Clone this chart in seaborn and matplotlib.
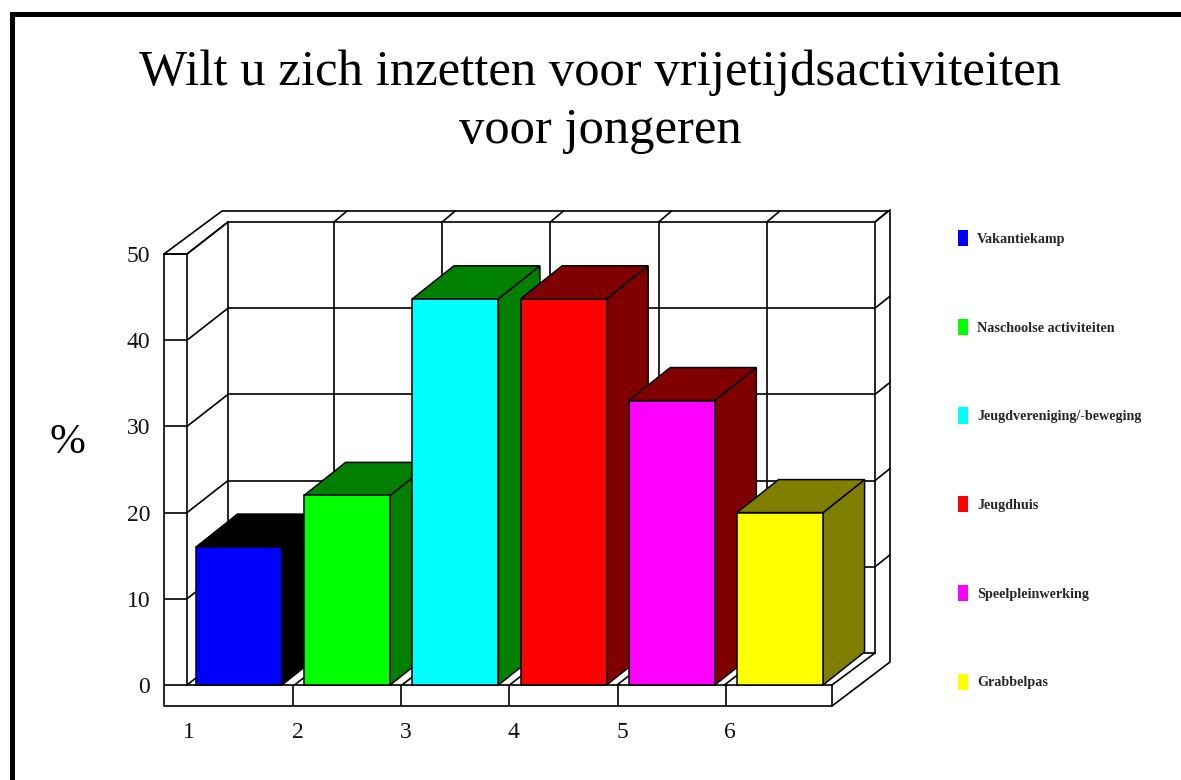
import matplotlib
matplotlib.use('Agg')
import matplotlib.pyplot as plt
from matplotlib.patches import Patch, Polygon, Rectangle
import seaborn as sns

# Data
categories = ['Vakantiekamp', 'Naschoolse activiteiten', 'Jeugdvereniging/-beweging',
              'Jeugdhuis', 'Speelpleinwerking', 'Grabbelpas']
values = [16, 22, 44.8, 44.8, 33, 20]
front_colors = ['#0000ff', '#00ff00', '#00ffff', '#ff0000', '#ff00ff', '#ffff00']
side_colors = ['#000000', '#008000', '#008000', '#800000', '#800000', '#808000']
y_ticks = [0, 10, 20, 30, 40, 50]
x_tick_labels = ['1', '2', '3', '4', '5', '6']
title = 'Wilt u zich inzetten voor vrijetijdsactiviteiten\nvoor jongeren'

W, H = 1181, 780
sns.set_theme(style='white')
plt.rcParams['font.family'] = ['Liberation Serif', 'DejaVu Serif']

fig = plt.figure(figsize=(W / 100, H / 100), dpi=100)
# front plane of the box: x 187-832 px, y 254-685 px
ax = fig.add_axes([187 / W, (H - 685) / H, (832 - 187) / W, (685 - 254) / H])

sns.barplot(x=categories, y=values, hue=categories, palette=front_colors, saturation=1,
            width=0.795, legend=False, edgecolor='black', linewidth=1.1, ax=ax, zorder=5)

XMIN, XMAX = -0.48, 5.48
ax.set_xlim(XMIN, XMAX)
ax.set_ylim(0, 50)
sx = (XMAX - XMIN) / 645  # data units per pixel
sy = 50 / 431
LW = 1.2


def seg(xs, ys, z=1):
    ax.plot(xs, ys, color='black', lw=LW, clip_on=False, zorder=z, solid_capstyle='projecting')


# box depth, and the outer shell offset
bx, by = 41 * sx, 32 * sy
ox, oy = 23 * sx, 21 * sy
top = 50 + 43 * sy
right = XMAX + 58 * sx

# front strip and left wall
seg([XMIN - ox, XMIN - ox, XMAX, XMAX], [50, -oy, -oy, 0])
seg([XMIN, XMAX], [0, 0], 4)
seg([XMIN, XMIN], [0, 50])
seg([XMIN - ox, XMIN], [50, 50])
# outer back edges
seg([XMIN - ox, XMIN - ox + 58 * sx, right, right, XMAX], [50, top, top, -oy + 44 * sy, -oy])
seg([XMIN, XMIN + bx], [50, 50 + by])
seg([XMAX, XMAX + 43 * sx], [0, by])

# back wall grid
wall_right = XMIN + bx + 647 * sx
seg([XMIN + bx, XMIN + bx], [by, 50 + by])
for k in range(6):
    gx = wall_right - k * 108.2 * sx
    seg([gx, gx], [by, 50 + by])
    seg([gx, gx + 13 * sx], [50 + by, top])
for t in y_ticks:
    seg([XMIN + bx, wall_right], [t + by, t + by])
    seg([XMIN, XMIN + bx], [t, t + by])
    if t > 0:
        seg([wall_right, wall_right + 15 * sx], [t + by, t + by + 12 * sy])
# floor lines
for k in range(1, 6):
    fx = XMIN + k * 107.5 * sx
    seg([fx, fx + bx], [0, by])

# top and side faces of the bars
dx, dy = 41.5 * sx, 33 * sy
for bar, side in zip(ax.patches, side_colors):
    x0, x1 = bar.get_x(), bar.get_x() + bar.get_width()
    h = bar.get_height()
    ax.add_patch(Polygon([(x1, 0), (x1 + dx, dy), (x1 + dx, h + dy), (x1, h)], closed=True,
                         facecolor=side, edgecolor='black', lw=1.1, clip_on=False, zorder=3))
    ax.add_patch(Polygon([(x0, h), (x1, h), (x1 + dx, h + dy), (x0 + dx, h + dy)], closed=True,
                         facecolor=side, edgecolor='black', lw=1.1, clip_on=False, zorder=3))
    bar.set_clip_on(False)

# axes ticks and labels
sns.despine(ax=ax, left=True, bottom=True, right=True, top=True)
ax.set_yticks(y_ticks)
ax.set_yticklabels([str(t) for t in y_ticks], fontsize=17, color='#111111')
ax.tick_params(axis='y', left=True, length=23 * 0.72, width=LW, pad=10, color='black')
ax.set_xticks([i - 0.46 for i in range(6)])
ax.set_xticklabels(x_tick_labels, fontsize=17, color='#111111')
ax.set_xticks([i + 0.5 for i in range(5)], minor=True)
ax.tick_params(axis='x', which='major', bottom=False, pad=21)
ax.tick_params(axis='x', which='minor', bottom=True, length=21 * 0.72, width=LW, color='black')
ax.set_xlabel('')
ax.set_ylabel('')
ax.patch.set_alpha(0)

fig.suptitle(title, x=600 / W, y=1 - 49 / H, fontsize=36.5, linespacing=1.35, va='top', color='black')
fig.text(67 / W, 1 - 443 / H, '%', fontsize=31, ha='center', va='center', color='black')

# legend
fs = 10.2
fpx = fs / 0.72
handles = [Patch(facecolor=c, edgecolor='none', label=l) for c, l in zip(front_colors, categories)]
fig.legend(handles=handles, loc='upper left', bbox_to_anchor=(958 / W, 1 - 230 / H), frameon=False,
           prop={'size': fs, 'weight': 'bold'}, borderpad=0, borderaxespad=0,
           handlelength=10 / fpx, handleheight=1.394, handletextpad=9 / fpx,
           labelspacing=(88.4 - 16) / fpx)

# black frame, top and left only
fig.add_artist(Rectangle((10 / W, 0), 5 / W, 1 - 12 / H, transform=fig.transFigure, color='black', lw=0))
fig.add_artist(Rectangle((10 / W, 1 - 17 / H), 1 - 10 / W, 5 / H, transform=fig.transFigure, color='black', lw=0))

plt.savefig('out.png', dpi=100)
